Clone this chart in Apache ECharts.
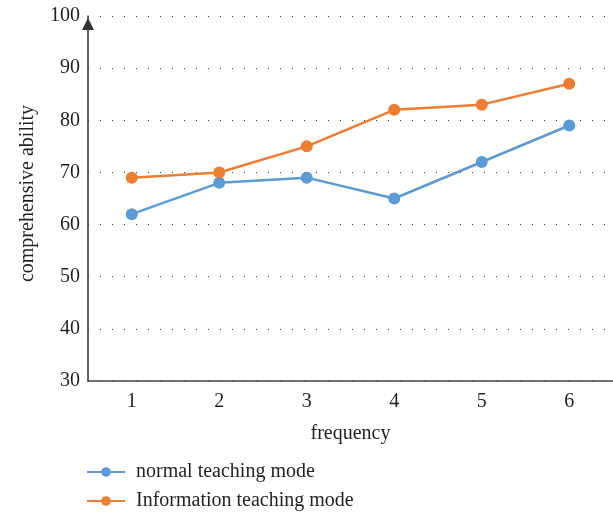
<!DOCTYPE html>
<html>
<head>
<meta charset="utf-8">
<script src="https://cdn.jsdelivr.net/npm/echarts@6/dist/echarts.min.js"></script>
<style>
  html, body { margin: 0; padding: 0; background: #fff; }
  #chart { width: 613px; height: 515px; }
</style>
</head>
<body>
<div id="chart"></div>
<script>
const categories = ['1', '2', '3', '4', '5', '6']
const normalMode = [62, 68, 69, 65, 72, 79]
const infoMode = [69, 70, 75, 82, 83, 87]
const seriesNames = ['normal teaching mode', 'Information teaching mode']

const font = 'Liberation Serif, Times New Roman, serif'
const textColor = '#231f20'
const chart = echarts.init(document.getElementById('chart'))
chart.setOption({
  animation: false,
  textStyle: { fontFamily: font },
  grid: {
    left: 88,
    right: 0,
    top: 16,
    bottom: 134
  },
  legend: {
    orient: 'vertical',
    left: 86,
    top: 462,
    padding: 0,
    itemWidth: 38,
    itemHeight: 12,
    itemGap: 9,
    textStyle: { fontFamily: font, fontSize: 20, color: textColor, padding: [0, 0, 0, 6] },
    data: seriesNames
  },
  xAxis: {
    type: 'category',
    data: categories,
    name: 'frequency',
    nameLocation: 'middle',
    nameGap: 43,
    nameTextStyle: { fontFamily: font, fontSize: 20, color: textColor },
    axisLine: { lineStyle: { color: '#444', width: 1.5 } },
    axisTick: { show: false },
    axisLabel: { fontFamily: font, fontSize: 20, color: textColor, margin: 11 }
  },
  yAxis: {
    type: 'value',
    min: 30,
    max: 100,
    interval: 10,
    name: 'comprehensive ability',
    nameLocation: 'middle',
    nameGap: 50,
    nameTextStyle: { fontFamily: font, fontSize: 20, color: textColor, padding: [0, 0, 0, 10] },
    axisLine: {
      show: true,
      symbol: ['none', 'triangle'],
      symbolSize: [12, 12],
      symbolOffset: [0, -8],
      lineStyle: { color: '#333', width: 1.5 }
    },
    axisTick: { show: false },
    axisLabel: { fontFamily: font, fontSize: 20, color: textColor, margin: 8 },
    splitLine: {
      lineStyle: { color: '#333', type: [1, 11], width: 1.2 }
    }
  },
  series: [
    {
      name: seriesNames[0],
      type: 'line',
      data: normalMode,
      symbol: 'circle',
      symbolSize: 12,
      itemStyle: { color: '#5B9BD5' },
      lineStyle: { color: '#5B9BD5', width: 2.5 }
    },
    {
      name: seriesNames[1],
      type: 'line',
      data: infoMode,
      symbol: 'circle',
      symbolSize: 12,
      itemStyle: { color: '#ED7D31' },
      lineStyle: { color: '#ED7D31', width: 2.5 }
    }
  ]
})
</script>
</body>
</html>
